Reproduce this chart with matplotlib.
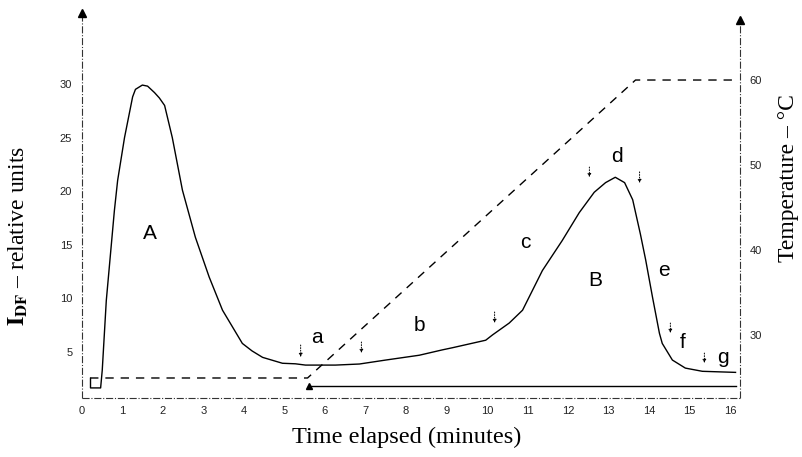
import matplotlib
matplotlib.use("Agg")
import matplotlib.pyplot as plt

# ---- data ----
t_idf = [0.21, 0.21, 0.46, 0.5, 0.6, 0.8, 0.88, 1.05, 1.25, 1.32, 1.49, 1.62, 1.79, 1.91, 2.04, 2.23,
         2.48, 2.8, 3.14, 3.47, 3.96, 4.2, 4.46, 4.95, 5.27, 5.52, 6.26, 6.85, 7.5, 8.33,
         8.9, 9.15, 9.97, 10.14, 10.55, 10.88, 11.37, 11.86, 12.28, 12.65, 12.93,
         13.17, 13.4, 13.6, 13.79, 13.92, 14.09, 14.26, 14.33, 14.58, 14.9, 15.32, 16.14]
idf = [2.55, 1.65, 1.65, 3.3, 9.8, 18.2, 21.0, 25.0, 28.8, 29.5, 29.9, 29.8, 29.2, 28.7, 28.0, 25.0,
       20.1, 15.7, 12.0, 8.9, 5.8, 5.1, 4.5, 3.95, 3.9, 3.78, 3.78, 3.88, 4.25, 4.7,
       5.2, 5.4, 6.1, 6.6, 7.7, 8.9, 12.6, 15.4, 18.0, 19.9, 20.8,
       21.3, 20.8, 19.2, 16.0, 13.6, 10.1, 6.75, 5.8, 4.25, 3.5, 3.2, 3.1]

t_temp = [0.2, 5.57, 13.67, 16.15]
temp = [25, 25, 60, 60]

heat_t = [5.6, 16.15]
heat_y = [1.85, 1.85]

x_ticks = list(range(0, 17))
y_ticks_left = [5, 10, 15, 20, 25, 30]
y_ticks_right = [30, 40, 50, 60]

letters = ["A", "a", "b", "c", "B", "d", "e", "f", "g"]
letter_t = [1.67, 5.79, 8.33, 10.95, 12.68, 13.22, 14.36, 14.83, 15.84]
letter_y = [16.1, 6.4, 7.5, 15.2, 11.7, 23.2, 12.56, 5.93, 4.53]

arrow_t = [5.40, 6.90, 10.19, 12.53, 13.77, 14.53, 15.37]
arrow_top = [5.65, 5.93, 8.73, 22.25, 21.8, 7.7, 4.9]
arrow_bot = [4.53, 4.9, 7.7, 21.3, 20.75, 6.77, 3.97]

# ---- figure ----
plt.rcParams['mathtext.fontset'] = 'stix'
fig = plt.figure(figsize=(8.03, 4.57), dpi=100)
ax = fig.add_axes([82/803, 59/457, 658/803, 378/457])
ax2 = ax.twinx()

ax.set_xlim(0, 16.25)
ax.set_ylim(0.71, 35.97)
ax2.set_ylim(22.65, 67.05)

for a in (ax, ax2):
    for s in a.spines.values():
        s.set_visible(False)

ax.plot(t_idf, idf, color='black', lw=1.0)
ax2.plot(t_temp, temp, color='black', lw=1.0, dashes=(6, 5))
ax.plot(heat_t, heat_y, color='black', lw=1.0)
ax.plot([heat_t[0]], [heat_y[0]], marker='^', color='black', ms=5, clip_on=False)

# axis lines (dash-dot) with arrows
axc = dict(color='#333333', lw=0.8, ls='-.', transform=ax.transAxes, clip_on=False)
ax.plot([0, 0], [0, 1.0185], **axc)
ax.plot([1, 1], [0, 1.0], **axc)
ax.plot([0, 1], [0, 0], **axc)
ax.plot([0], [1.0185], marker='^', color='black', ms=6, transform=ax.transAxes, clip_on=False)
ax.plot([1], [1.0], marker='^', color='black', ms=6, transform=ax.transAxes, clip_on=False)

ax.set_xticks(x_ticks)
ax.set_yticks(y_ticks_left)
ax2.set_yticks(y_ticks_right)
ax.tick_params(axis='x', length=0, pad=6, labelsize=8, labelcolor='#222222')
ax.tick_params(axis='y', length=0, pad=7, labelsize=8, labelcolor='#222222')
ax2.tick_params(axis='y', length=0, pad=7, labelsize=8, labelcolor='#222222')
for lab in ax.get_xticklabels() + ax.get_yticklabels() + ax2.get_yticklabels():
    lab.set_family('Liberation Sans')

for s, tx, ty in zip(letters, letter_t, letter_y):
    ax.text(tx, ty, s, ha='center', va='center', fontsize=15, family='Liberation Sans')

for tx, y0, y1 in zip(arrow_t, arrow_top, arrow_bot):
    ax.annotate('', xy=(tx, y1), xytext=(tx, y0),
                arrowprops=dict(arrowstyle='-|>', lw=0.7, ls=':', color='black',
                                mutation_scale=5, shrinkA=0, shrinkB=0))

fig.text(407/803, 1 - 437/457, 'Time elapsed (minutes)', ha='center', va='center',
         fontsize=17.5, family='Liberation Serif')
fig.text(18/803, 1 - 236/457, r'$\mathbf{I}_{\mathbf{DF}}$ – relative units', ha='center',
         va='center', rotation=90, fontsize=17, family='Liberation Serif')
fig.text(789/803, 1 - 178/457, 'Temperature – °C', ha='center', va='center',
         rotation=90, fontsize=17, family='Liberation Serif')

fig.savefig('out.png', dpi=100)
